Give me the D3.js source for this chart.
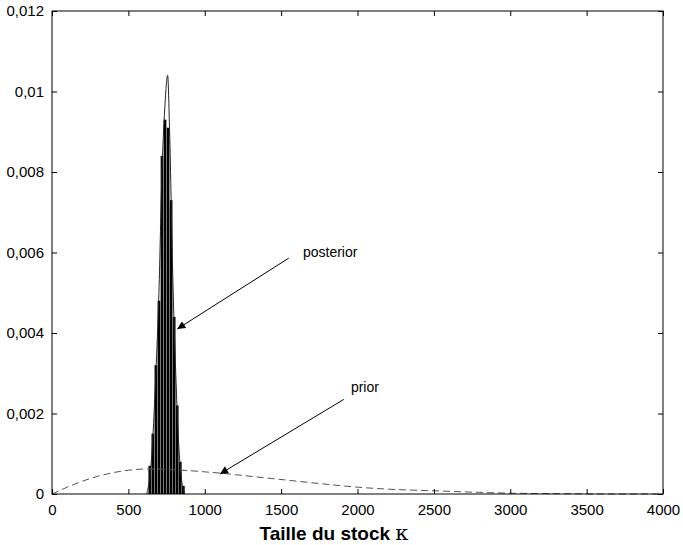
<!DOCTYPE html>
<html>
<head>
<meta charset="utf-8">
<script src="https://cdn.jsdelivr.net/npm/d3@7"></script>
<style>
  body { margin: 0; background: #fff; }
  text { font-family: "Liberation Sans", Arial, sans-serif; fill: #000; }
  .tick-label { font-size: 15px; }
  .axis-title { font-size: 19px; font-weight: bold; }
  .note { font-size: 14px; }
</style>
</head>
<body>
<svg id="chart"></svg>
<script>
// x ticks and y ticks (French decimal comma)
const xTicks = [0, 500, 1000, 1500, 2000, 2500, 3000, 3500, 4000];
const yTicks = [0, 0.002, 0.004, 0.006, 0.008, 0.01, 0.012];
const yTickLabels = ['0', '0,002', '0,004', '0,006', '0,008', '0,01', '0,012'];

// posterior histogram, bins of 20
const binStarts = [630, 650, 670, 690, 710, 730, 750, 770, 790, 810, 830, 850];
const binHeights = [0.0007, 0.0015, 0.0032, 0.0048, 0.0084, 0.0093, 0.0091, 0.0073, 0.0044, 0.0022, 0.0008, 0.0002];
const binWidth = 20;

// posterior density curve
const postX = [620, 650, 680, 700, 720, 740, 757, 770, 790, 810, 830, 850, 870];
const postY = [0, 0.0008, 0.0030, 0.0050, 0.0080, 0.0097, 0.0104, 0.0090, 0.0055, 0.0030, 0.0012, 0.0003, 0];

// prior density curve (dashed)
const priorX = [0, 100, 200, 300, 400, 500, 600, 700, 800, 900, 1000, 1100, 1200, 1400, 1600, 1800, 2000, 2200, 2500, 2800, 3000, 3300, 3600, 4000];
const priorY = [0, 0.00017, 0.00032, 0.00044, 0.00053, 0.00059, 0.00062, 0.00062, 0.00060, 0.00058, 0.00055, 0.00052, 0.00048, 0.00040, 0.00032, 0.00024, 0.00017, 0.00012, 0.00008, 0.00004, 0.00002, 0.00001, 0, 0];

const width = 683, height = 545;
const margin = {top: 11, right: 20, bottom: 51, left: 52};
const w = width - margin.left - margin.right;
const h = height - margin.top - margin.bottom;

const svg = d3.select('#chart').attr('width', width).attr('height', height);
const g = svg.append('g').attr('transform', `translate(${margin.left},${margin.top})`);

const x = d3.scaleLinear().domain([0, 4000]).range([0, w]);
const y = d3.scaleLinear().domain([0, 0.012]).range([h, 0]);

// histogram bars
g.selectAll('rect.bar')
  .data(binStarts)
  .enter()
  .append('rect')
  .attr('class', 'bar')
  .attr('x', d => x(d) + 0.2)
  .attr('width', x(binWidth) - x(0) - 0.4)
  .attr('y', (d, i) => y(binHeights[i]))
  .attr('height', (d, i) => h - y(binHeights[i]))
  .attr('fill', '#000');

// posterior line
const line = d3.line().x(d => x(d[0])).y(d => y(d[1])).curve(d3.curveMonotoneX);
g.append('path')
  .datum(postX.map((v, i) => [v, postY[i]]))
  .attr('d', line)
  .attr('fill', 'none')
  .attr('stroke', '#222')
  .attr('stroke-width', 1);

// prior line
g.append('path')
  .datum(priorX.map((v, i) => [v, priorY[i]]))
  .attr('d', line)
  .attr('fill', 'none')
  .attr('stroke', '#555')
  .attr('stroke-width', 1)
  .attr('stroke-dasharray', '7,4');

// frame
g.append('rect')
  .attr('width', w).attr('height', h)
  .attr('fill', 'none').attr('stroke', '#000').attr('stroke-width', 1);

// axes with inward ticks
const xAxisB = d3.axisBottom(x).tickValues(xTicks).tickSize(-5).tickSizeOuter(0).tickPadding(10).tickFormat(d3.format('d'));
const xAxisT = d3.axisTop(x).tickValues(xTicks).tickSize(-5).tickSizeOuter(0).tickFormat('');
const yAxisL = d3.axisLeft(y).tickValues(yTicks).tickSize(-5).tickSizeOuter(0).tickPadding(8)
  .tickFormat((d, i) => yTickLabels[i]);
const yAxisR = d3.axisRight(y).tickValues(yTicks).tickSize(-5).tickSizeOuter(0).tickFormat('');

function style(sel) {
  sel.select('.domain').remove();
  sel.selectAll('text').attr('class', 'tick-label').attr('font-size', null).attr('font-family', null);
}
g.append('g').attr('transform', `translate(0,${h})`).call(xAxisB).call(style);
g.append('g').call(xAxisT).call(style);
g.append('g').call(yAxisL).call(style);
g.append('g').attr('transform', `translate(${w},0)`).call(yAxisR).call(style);

// x axis title
const title = svg.append('text')
  .attr('class', 'axis-title')
  .attr('x', 334)
  .attr('y', 540)
  .attr('text-anchor', 'middle')
  .text('Taille du stock ');
title.append('tspan')
  .style('font-family', '"DejaVu Serif", serif')
  .style('font-weight', 'normal')
  .style('font-size', '21px')
  .text('κ');

// arrows
svg.append('defs').append('marker')
  .attr('id', 'head')
  .attr('viewBox', '0 0 10 10')
  .attr('refX', 10).attr('refY', 5)
  .attr('markerWidth', 12).attr('markerHeight', 8)
  .attr('markerUnits', 'userSpaceOnUse')
  .attr('orient', 'auto')
  .append('path').attr('d', 'M0,0L10,5L0,10z').attr('fill', '#000');

const notes = [
  {label: 'posterior', from: [1550, 0.00586], to: [820, 0.0041], tx: 1643, ty: 0.0059},
  {label: 'prior', from: [1910, 0.00235], to: [1100, 0.0005], tx: 1957, ty: 0.00253}
];
notes.forEach(n => {
  g.append('line')
    .attr('x1', x(n.from[0])).attr('y1', y(n.from[1]))
    .attr('x2', x(n.to[0])).attr('y2', y(n.to[1]))
    .attr('stroke', '#000').attr('stroke-width', 1)
    .attr('marker-end', 'url(#head)');
  g.append('text')
    .attr('class', 'note')
    .attr('x', x(n.tx)).attr('y', y(n.ty))
    .text(n.label);
});
</script>
</body>
</html>
